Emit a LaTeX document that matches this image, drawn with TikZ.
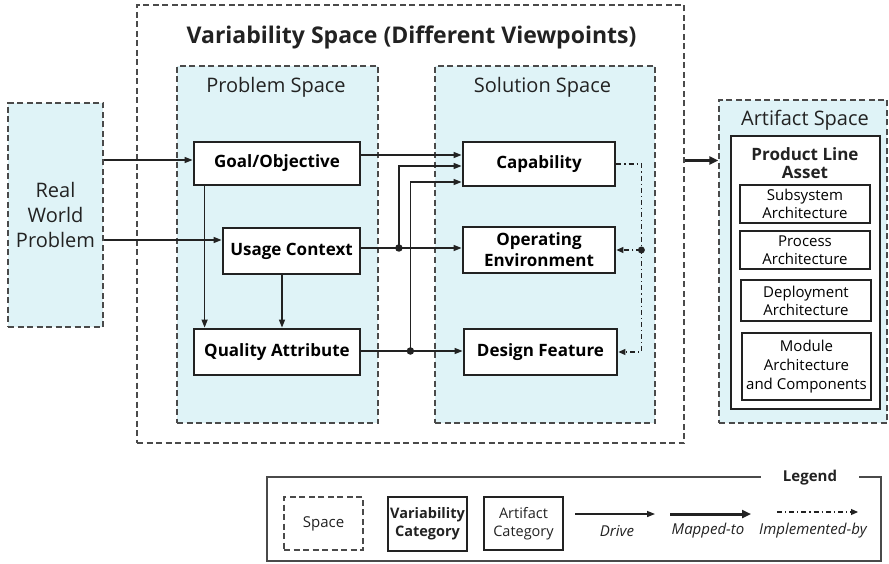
\documentclass[tikz,border=0pt]{standalone}
\usepackage{fontspec}
\setmainfont{Open Sans}
\usetikzlibrary{arrows.meta}
\definecolor{spacefill}{HTML}{DFF3F7}
\definecolor{inkline}{HTML}{222222}
\definecolor{dashline}{HTML}{4A4A4A}
\tikzset{
  fsz/.style n args={2}{font=\fontsize{#1}{#2}\selectfont},
  outerbox/.style={draw=dashline, line width=1.3pt, dash pattern=on 6pt off 3.5pt},
  spacebox/.style={outerbox, fill=spacefill},
  spacetitle/.style={fsz={20}{22}, text=inkline, inner sep=0pt},
  catbox/.style={draw=inkline, line width=2.8pt, fill=white, align=center,
    inner sep=0pt, font=\fontsize{17}{21}\selectfont\bfseries},
  plbox/.style={draw=inkline, line width=1.4pt, fill=white},
  artbox/.style={draw=inkline, line width=1.3pt, fill=white, align=center,
    inner sep=0pt, fsz={15}{18}},
  drive/.style={draw=inkline, line width=1.4pt, -{Triangle[length=8pt,width=6pt]}},
  mapped/.style={draw=inkline, line width=3pt, -{Triangle[length=9pt,width=8pt]}},
  impl/.style={draw=inkline, line width=1.1pt,
    dash pattern=on 5pt off 3pt on 1.2pt off 3pt, -{Triangle[length=7pt,width=6pt]}},
  junction/.style={circle, fill=inkline, inner sep=0pt, minimum size=7.5pt},
  legtext/.style={font=\fontsize{15}{16}\selectfont\itshape, text=inkline, inner sep=0pt},
}
\begin{document}
\begin{tikzpicture}[x=1pt,y=-1pt]
\useasboundingbox (0,0) rectangle (889,564);

% ---------- spaces ----------
\node[outerbox, minimum width=547pt, minimum height=438pt] (varsp) at (410.5,224) {};
\node[font=\fontsize{23}{26}\selectfont\bfseries, text=inkline, inner sep=0pt] (vartitle)
  at (411.5,37) {Variability Space (Different Viewpoints)};

\node[spacebox, minimum width=201pt, minimum height=357pt] (probsp) at (277.5,244.5) {};
\node[spacetitle] (probtitle) at (276,87) {Problem Space};

\node[spacebox, minimum width=220pt, minimum height=357pt] (solsp) at (545,244.5) {};
\node[spacetitle] (soltitle) at (542.5,87) {Solution Space};

\node[spacebox, minimum width=168pt, minimum height=323pt] (artsp) at (803,261.5) {};
\node[spacetitle] (arttitle) at (805,120) {Artifact Space};

\node[spacebox, minimum width=95pt, minimum height=224pt, align=center,
  fsz={20}{25}, text=inkline] (rwp) at (55.5,215) {Real\\World\\Problem};

% ---------- artifact categories ----------
\node[plbox, minimum width=149pt, minimum height=273pt] (pla) at (805.5,272.5) {};
\node[font=\fontsize{17}{18}\selectfont\bfseries, align=center, text=inkline, inner sep=0pt]
  (platitle) at (805,163) {Product Line\\Asset};
\node[artbox, minimum width=130pt, minimum height=38pt] (subsys) at (805,204) {Subsystem\\Architecture};
\node[artbox, minimum width=130pt, minimum height=38pt] (process) at (805,250) {Process\\Architecture};
\node[artbox, minimum width=130pt, minimum height=41pt] (deploy) at (806,300.5) {Deployment\\Architecture};
\node[artbox, minimum width=129pt, minimum height=67pt, fsz={15}{19}] (module) at (806.5,366.5)
  {Module\\Architecture\\and Components};

% ---------- variability categories ----------
\node[catbox, minimum width=166pt, minimum height=43pt] (goal) at (277,163.5) {Goal/Objective};
\node[catbox, minimum width=137pt, minimum height=46pt] (usage) at (291.5,251) {Usage Context};
\node[catbox, minimum width=166pt, minimum height=46pt] (quality) at (277,352) {Quality Attribute};
\node[catbox, minimum width=152pt, minimum height=44pt] (cap) at (539,164) {Capability};
\node[catbox, minimum width=152pt, minimum height=46pt] (openv) at (539,250) {Operating\\Environment};
\node[catbox, minimum width=153pt, minimum height=46pt] (design) at (540.5,352) {Design Feature};

% ---------- drive connectors ----------
\coordinate (g1) at ([yshift=3.5pt]goal.west);
\draw[drive] (rwp.east |- g1) -- (g1);
\coordinate (u1) at ([yshift=11pt]usage.west);
\draw[drive] (rwp.east |- u1) -- (u1);

\coordinate (g2) at ([xshift=12pt]goal.south west);
\draw[drive] (g2) -- (g2 |- quality.north);
\coordinate (u2) at ([xshift=-9.5pt]usage.south);
\draw[drive] (u2) -- (u2 |- quality.north);

\coordinate (g3) at ([yshift=8.5pt]goal.east);
\draw[drive] (g3) -- (g3 -| cap.west);

\coordinate (u3) at ([yshift=3pt]usage.east);
\draw[drive] (u3) -- (u3 -| openv.west);
\node[junction] (j1) at ([xshift=37.5pt]u3) {};
\coordinate (c2) at ([yshift=-2pt]cap.west);
\draw[drive] (j1.center) |- (c2);

\coordinate (q1) at ([yshift=1pt]quality.east);
\draw[drive] (q1) -- (q1 -| design.west);
\node[junction] (j2) at ([xshift=49pt]q1) {};
\coordinate (c3) at ([yshift=-18pt]cap.west);
\draw[drive] (j2.center) |- (c3);

% ---------- implemented-by connectors ----------
\coordinate (k1) at ([xshift=25pt]cap.east);
\draw[impl] (cap.east) -- (k1) |- (design.east);
\node[junction, minimum size=7pt] (j3) at (k1 |- openv.east) {};
\draw[impl] (j3.center) -- (openv.east);

% ---------- mapped-to connector ----------
\coordinate (m1) at ([yshift=101pt]artsp.west);
\draw[mapped] (varsp.east |- m1) -- (m1);

% ---------- legend ----------
\node[draw=dashline, line width=1.2pt, minimum width=614pt, minimum height=84pt] (legend) at (574,519) {};
\node[fill=white, minimum width=98pt, inner ysep=2pt, text=inkline,
  font=\fontsize{15}{16}\selectfont\bfseries] (legtitle) at (810,478) {Legend};

\node[outerbox, minimum width=79pt, minimum height=53pt, fsz={15}{18}, text=inkline]
  (lgspace) at (323.5,523.5) {Space};
\node[draw=inkline, line width=2.8pt, minimum width=79pt, minimum height=54pt, align=center,
  inner sep=0pt, font=\fontsize{14.5}{18}\selectfont\bfseries, text=inkline]
  (lgcat) at (427.5,524) {Variability\\Category};
\node[draw=inkline, line width=1.3pt, minimum width=79pt, minimum height=53pt, align=center,
  inner sep=0pt, fsz={14.5}{18}, text=inkline] (lgart) at (523.5,523.5) {Artifact\\Category};

\coordinate (d1) at (575,514);
\coordinate (d2) at (655,514);
\draw[drive] (d1) -- (d2);
\node[legtext] (lgdrive) at (617,531) {Drive};

\coordinate (p1) at (670,514);
\coordinate (p2) at (751,514);
\draw[mapped] (p1) -- (p2);
\node[legtext] (lgmapped) at (708,531) {Mapped-to};

\coordinate (i1) at (777,512);
\coordinate (i2) at (858,512);
\draw[impl] (i1) -- (i2);
\node[legtext] (lgimpl) at (813,531) {Implemented-by};
\end{tikzpicture}
\end{document}
